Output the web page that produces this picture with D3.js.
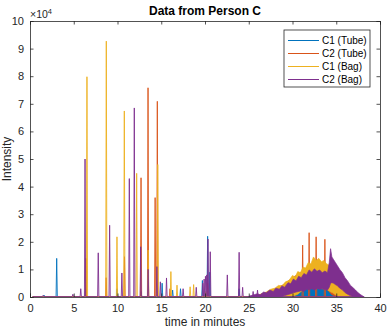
<!DOCTYPE html>
<html>
<head>
<meta charset="utf-8">
<script src="https://cdn.jsdelivr.net/npm/d3@7"></script>
<style>
  body { margin: 0; background: #fff; }
  svg { font-family: "Liberation Sans", Arial, sans-serif; }
</style>
</head>
<body>
<svg id="chart"></svg>
<script>
// series names and colours (MATLAB default order)
var seriesNames = ["C1 (Tube)", "C2 (Tube)", "C1 (Bag)", "C2 (Bag)"];
var seriesColors = ["#0072BD", "#D95319", "#EDB120", "#7E2F8E"];

var xTicks = [0, 5, 10, 15, 20, 25, 30, 35, 40];
var yTicks = [0, 10000, 20000, 30000, 40000, 50000, 60000, 70000, 80000, 90000, 100000];

// sharp peaks, [minute, intensity]
var peaksC1Tube = [[1.6, 700], [3.05, 14000], [6.35, 3000], [9.95, 3000], [12.7, 2000], [15.1, 5000],
  [16.3, 2500], [17.2, 3000], [19.7, 6000], [20.3, 22000], [20.55, 9000], [23.9, 3000]];
var peaksC2Tube = [[6.4, 14000], [8.7, 7000], [10.8, 14600], [12.69, 43200], [13.49, 75800], [14.3, 36000],
  [14.55, 70900], [16.0, 3000], [20.3, 5000], [31.16, 18800], [31.9, 23300], [32.7, 21800], [33.7, 20900]];
var peaksC1Bag = [[6.51, 79800], [8.72, 92700], [9.94, 21800], [10.78, 67400], [12.19, 44800], [13.5, 17000],
  [14.6, 48000], [16.1, 9200], [16.8, 4300], [18.3, 3700], [18.7, 4500], [20.1, 2000]];
var peaksC2Bag = [[1.5, 600], [4.9, 1000], [5.8, 3000], [6.29, 50000], [7.8, 16000], [9.1, 26000], [10.5, 8700],
  [11.35, 42900], [11.92, 68500], [12.65, 18200], [13.5, 10000], [14.5, 11000], [14.9, 5500], [15.6, 6900],
  [17.5, 3000], [19.0, 3500], [19.75, 5000], [19.9, 6500], [20.05, 7500], [20.2, 8000], [20.34, 21000],
  [20.6, 16400], [22.55, 8000], [23.9, 16200], [24.3, 3500], [25.5, 2000], [26.0, 2500]];

// where each trace ends
var traceEnd = [36, 36.5, 37.5, 38.2];

// broad noisy hump at 26-38 min: time, upper and lower edge of the noise band
var humpTC1Tube = [27, 28, 29, 29.5, 30, 30.5, 31, 31.3, 31.6, 31.9, 32.2, 32.5, 32.8, 33.1, 33.4, 33.7, 34, 34.3, 34.6, 35, 35.5, 36];
var humpHiC1Tube = [300, 800, 1500, 1800, 2500, 3000, 3800, 3300, 4500, 4000, 5200, 4800, 5500, 4700, 4500, 3800, 3000, 2500, 2000, 1000, 400, 0];

var humpTC2Tube = [26, 27, 28, 29, 30, 31, 32, 33, 34, 34.5, 35, 35.5, 36, 36.5];
var humpHiC2Tube = [500, 1500, 3000, 4500, 7000, 9000, 11000, 11500, 9000, 6000, 3500, 1800, 600, 0];
var humpLoC2Tube = [0, 0, 0, 0, 500, 2600, 3200, 3200, 2600, 800, 300, 0, 0, 0];

var humpTC1Bag = [26, 26.5, 27, 27.5, 28, 28.4, 28.8, 29.2, 29.6, 30, 30.3, 30.6, 30.9, 31.2, 31.5, 31.8, 32.1, 32.4,
  32.7, 33, 33.3, 33.6, 33.9, 34.2, 34.4, 34.6, 34.9, 35.2, 35.5, 35.8, 36.1, 36.5, 37, 37.5];
var humpHiC1Bag = [600, 1200, 1800, 2800, 3200, 4200, 4000, 5500, 6000, 7800, 7200, 9200, 8800, 10800, 10500, 12500, 12000, 14500,
  13200, 14000, 12800, 13200, 12000, 11500, 9000, 7000, 5200, 4500, 3500, 2800, 2000, 1200, 500, 0];
var humpLoC1Bag = [0, 0, 0, 0, 0, 0, 0, 0, 0, 300, 600, 1000, 1800, 2600, 3000, 3300, 3500, 3500,
  3400, 3500, 3200, 3000, 2800, 2200, 1800, 1500, 800, 400, 200, 0, 0, 0, 0, 0];

var humpTC2Bag = [25, 25.5, 26, 26.3, 26.7, 27, 27.4, 27.8, 28.1, 28.5, 28.8, 29.1, 29.5, 29.8, 30.1, 30.4, 30.7, 31,
  31.3, 31.6, 31.9, 32.2, 32.5, 32.8, 33.1, 33.4, 33.7, 34, 34.2, 34.35, 34.5, 34.7, 34.9, 35.1, 35.4, 35.7,
  36, 36.3, 36.6, 36.9, 37.2, 37.5, 37.8, 38.1];
var humpHiC2Bag = [300, 700, 1200, 800, 1800, 1500, 2500, 2000, 3200, 2800, 4000, 3500, 5200, 4800, 6500, 5800, 7500, 7000,
  8500, 8000, 9800, 9000, 10200, 9300, 9800, 8800, 9400, 8800, 12500, 17500, 14500, 13500, 12500, 11500, 10000, 8800,
  7000, 5800, 4300, 3400, 2500, 1500, 800, 200];
var humpLoC2Bag = [0, 0, 0, 0, 0, 0, 0, 0, 0, 0, 200, 500, 900, 1200, 1500, 1800, 2000, 2300,
  2000, 2800, 2600, 3000, 2500, 3100, 2800, 3000, 2600, 2500, 3500, 5000, 5200, 5000, 4500, 4200, 3200, 2600,
  1600, 1000, 500, 200, 0, 0, 0, 0];

var allPeaks = [peaksC1Tube, peaksC2Tube, peaksC1Bag, peaksC2Bag];
var allHumps = [
  [humpTC1Tube, humpHiC1Tube, null],
  [humpTC2Tube, humpHiC2Tube, humpLoC2Tube],
  [humpTC1Bag, humpHiC1Bag, humpLoC1Bag],
  [humpTC2Bag, humpHiC2Bag, humpLoC2Bag]
];

var width = 390, height = 330;
var margin = {top: 21, right: 10, bottom: 33, left: 30};
var plotW = width - margin.left - margin.right;
var plotH = height - margin.top - margin.bottom;
var baseLevel = 150;
var halfW = 0.07;

var svg = d3.select("#chart").attr("width", width).attr("height", height);

var x = d3.scaleLinear().domain([0, 40]).range([margin.left, margin.left + plotW]);
var y = d3.scaleLinear().domain([0, 100000]).range([margin.top + plotH, margin.top]);

svg.append("defs").append("clipPath").attr("id", "clip")
  .append("rect").attr("x", margin.left).attr("y", margin.top).attr("width", plotW).attr("height", plotH);

var plot = svg.append("g").attr("clip-path", "url(#clip)");

// turn a peak list into a trace along the baseline
function tracePoints(peaks, tEnd) {
  var pts = [[0.3, baseLevel]];
  peaks.forEach(function(p) {
    pts.push([p[0] - halfW, baseLevel]);
    pts.push([p[0], p[1]]);
    pts.push([p[0] + halfW, baseLevel]);
  });
  pts.push([tEnd, baseLevel]);
  pts.sort(function(a, b) { return a[0] - b[0]; });
  return pts;
}

var line = d3.line().x(function(d) { return x(d[0]); }).y(function(d) { return y(d[1]); });
var area = d3.area()
  .x(function(d) { return x(d.t); })
  .y0(function(d) { return y(d.lo); })
  .y1(function(d) { return y(d.hi); });

seriesNames.forEach(function(name, i) {
  var h = allHumps[i];
  var humpData = h[0].map(function(t, k) { return {t: t, hi: h[1][k], lo: h[2] ? h[2][k] : 0}; });
  plot.append("path")
    .datum(humpData)
    .attr("d", area)
    .attr("fill", seriesColors[i])
    .attr("stroke", seriesColors[i])
    .attr("stroke-width", 0.7);
  plot.append("path")
    .datum(tracePoints(allPeaks[i], traceEnd[i]))
    .attr("d", line)
    .attr("fill", "none")
    .attr("stroke", seriesColors[i])
    .attr("stroke-width", 0.9);
});

// axes, MATLAB style: box with inward ticks on all sides
var axisColor = "#262626";
var tickLen = 3.5;

var gx = svg.append("g").attr("transform", "translate(0," + (margin.top + plotH) + ")")
  .call(d3.axisBottom(x).tickValues(xTicks).tickSize(-tickLen).tickPadding(7));
var gxTop = svg.append("g").attr("transform", "translate(0," + margin.top + ")")
  .call(d3.axisTop(x).tickValues(xTicks).tickSize(-tickLen).tickFormat(""));
var gy = svg.append("g").attr("transform", "translate(" + margin.left + ",0)")
  .call(d3.axisLeft(y).tickValues(yTicks).tickSize(-tickLen).tickPadding(6)
    .tickFormat(function(d) { return d / 10000; }));
var gyRight = svg.append("g").attr("transform", "translate(" + (margin.left + plotW) + ",0)")
  .call(d3.axisRight(y).tickValues(yTicks).tickSize(-tickLen).tickFormat(""));

[gx, gxTop, gy, gyRight].forEach(function(g) {
  g.select(".domain").attr("stroke", axisColor).attr("stroke-width", 0.8);
  g.selectAll(".tick line").attr("stroke", axisColor).attr("stroke-width", 0.8);
  g.selectAll(".tick text").attr("fill", axisColor).attr("font-size", 11)
    .attr("font-family", "'Liberation Sans', Arial, sans-serif");
});

// exponent label
var expo = svg.append("text").attr("x", margin.left).attr("y", 18)
  .attr("font-size", 10.5).style("fill", axisColor);
expo.append("tspan").style("fill", axisColor).text("\u00d710");
expo.append("tspan").style("fill", axisColor).attr("font-size", 7.5).attr("dy", -4).text("4");

// title and axis labels
svg.append("text").attr("x", margin.left + plotW / 2).attr("y", 15)
  .attr("text-anchor", "middle").attr("font-size", 12).attr("font-weight", "bold")
  .attr("fill", "#000").text("Data from Person C");

svg.append("text").attr("x", margin.left + plotW / 2).attr("y", 326)
  .attr("text-anchor", "middle").attr("font-size", 12).attr("fill", axisColor)
  .text("time in minutes");

svg.append("text").attr("transform", "translate(11," + (margin.top + plotH / 2) + ") rotate(-90)")
  .attr("text-anchor", "middle").attr("font-size", 12).attr("fill", axisColor)
  .text("Intensity");

// legend
var legend = svg.append("g").attr("transform", "translate(284,30)");
legend.append("rect").attr("width", 86).attr("height", 57)
  .attr("fill", "#fff").attr("stroke", "#262626").attr("stroke-width", 0.8);
seriesNames.forEach(function(name, i) {
  var ly = 10.5 + i * 13;
  legend.append("line").attr("x1", 4).attr("x2", 35).attr("y1", ly).attr("y2", ly)
    .attr("stroke", seriesColors[i]).attr("stroke-width", 1);
  legend.append("text").attr("x", 38).attr("y", ly + 3.5).attr("font-size", 10)
    .attr("fill", "#000").text(name);
});
</script>
</body>
</html>
